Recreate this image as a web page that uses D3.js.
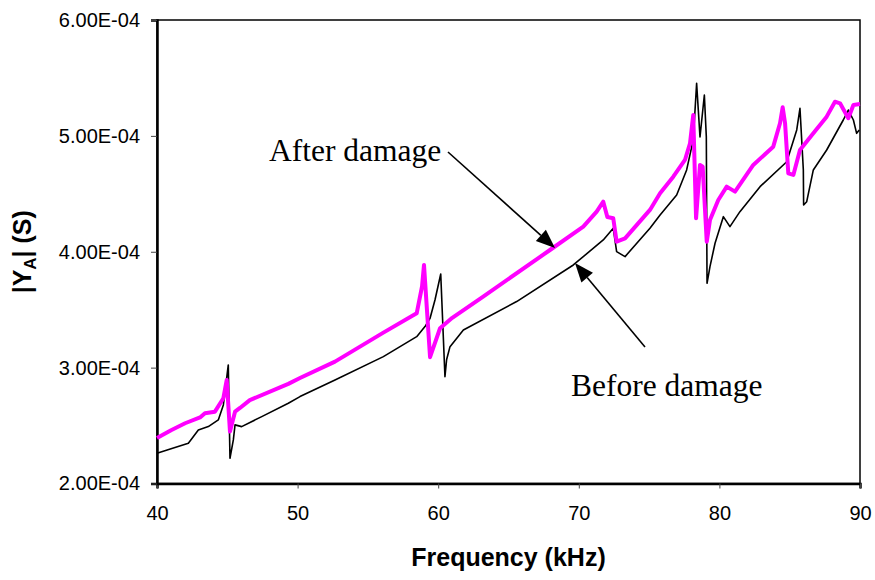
<!DOCTYPE html>
<html>
<head>
<meta charset="utf-8">
<script src="https://cdn.jsdelivr.net/npm/d3@7"></script>
<style>
  body { margin: 0; background: #fff; }
  .tick text { font-family: "Liberation Sans", Arial, sans-serif; font-size: 20px; fill: #000; }
  .note { font-family: "Liberation Serif", "Times New Roman", serif; font-size: 31.5px; fill: #000; }
  .title { font-family: "Liberation Sans", Arial, sans-serif; font-size: 25px; font-weight: bold; fill: #000; }
</style>
</head>
<body>
<svg id="chart" width="875" height="580"></svg>
<script>
// frequency in kHz, admittance in units of 1E-04 S
var freqAfter = [40, 41, 42, 43.06, 43.41, 44.12, 44.72, 44.96, 45.19, 45.55, 45.9, 46.6, 49.34, 50.17, 52.66,
  56.07, 58.47, 58.85, 58.99, 59.42, 60.13, 61.0, 63.2, 67.95, 70.32, 71.27, 71.74, 72.03, 72.45, 72.69, 73.29, 75.06,
  75.78, 76.72, 77.55, 77.91, 78.14, 78.34, 78.62, 78.81, 79.1, 79.33, 79.92, 80.52, 81.11, 82.41, 83.83,
  84.31, 84.5, 84.67, 84.9, 85.26, 85.73, 86.68, 87.63, 88.22, 88.58, 89.17, 89.53, 90];
var yAfter = [2.393, 2.46, 2.52, 2.57, 2.607, 2.62, 2.736, 2.894, 2.448, 2.62, 2.652, 2.72, 2.86, 2.91, 3.052,
  3.30, 3.469, 3.70, 3.886, 3.09, 3.34, 3.43, 3.613, 4.015, 4.217, 4.346, 4.432, 4.30, 4.289, 4.087, 4.116, 4.361,
  4.505, 4.648, 4.792, 4.936, 5.18, 4.289, 4.749, 4.734, 4.087, 4.274, 4.447, 4.562, 4.519, 4.749, 4.907,
  5.109, 5.247, 5.109, 4.677, 4.663, 4.878, 5.022, 5.166, 5.295, 5.281, 5.152, 5.267, 5.275];

var freqBefore = [40, 41, 42.23, 42.94, 43.65, 44.36, 44.72, 45.07, 45.19, 45.43, 45.55, 46.02, 47.45, 49.34,
  50.17, 52.66, 56.1, 58.47, 59.06, 59.42, 59.77, 60.18, 60.48, 60.6, 60.84, 61.79, 65.58, 69.61, 71.74, 72.45,
  72.69, 73.29, 75.06, 75.78, 76.96, 77.67, 78.14, 78.38, 78.62, 78.93, 79.07, 79.12, 79.33, 79.69, 80.28,
  80.75, 81.46, 82.89, 84.79, 85.5, 85.73, 85.97, 85.99, 86.21, 86.68, 87.63, 88.81, 89.17, 89.53, 89.76, 89.95];
var yBefore = [2.261, 2.30, 2.348, 2.462, 2.491, 2.549, 2.678, 3.023, 2.218, 2.376, 2.506, 2.491, 2.577, 2.693,
  2.75, 2.894, 3.095, 3.267, 3.354, 3.426, 3.584, 3.808, 2.922, 3.07, 3.181, 3.325, 3.57, 3.886, 4.102, 4.203,
  4.001, 3.958, 4.203, 4.318, 4.49, 4.706, 4.965, 5.454, 4.99, 5.353, 4.99, 3.728, 3.872, 4.073, 4.303,
  4.217, 4.346, 4.562, 4.777, 5.051, 5.238, 4.706, 4.404, 4.432, 4.706, 4.878, 5.137, 5.223, 5.137, 5.022, 5.051];

var xTicks = [40, 50, 60, 70, 80, 90];
var yTicks = [2, 3, 4, 5, 6];

(function () {
  'use strict';
  var svg = d3.select('#chart');
  var plotLeft = 157, plotRight = 860, plotTop = 20, plotBottom = 483.5;

  var x = d3.scaleLinear().domain([40, 90]).range([plotLeft, plotRight]);
  var y = d3.scaleLinear().domain([2, 6]).range([plotBottom, plotTop]);

  var formatE = function (v) {
    return v.toFixed(2) + 'E-04';
  };

  // plot frame
  svg.append('rect')
    .attr('x', plotLeft).attr('y', plotTop)
    .attr('width', plotRight - plotLeft).attr('height', plotBottom - plotTop)
    .attr('fill', 'none').attr('stroke', '#000').attr('stroke-width', 1.5);

  var xAxis = svg.append('g')
    .attr('transform', 'translate(0,' + plotBottom + ')')
    .call(d3.axisBottom(x).tickValues(xTicks).tickSize(5).tickPadding(17));
  var yAxis = svg.append('g')
    .attr('transform', 'translate(' + plotLeft + ',0)')
    .call(d3.axisLeft(y).tickValues(yTicks).tickFormat(formatE).tickSize(6).tickPadding(11));

  [xAxis, yAxis].forEach(function (g) {
    g.select('.domain').attr('stroke', '#000').attr('stroke-width', 2.5);
    g.selectAll('.tick line').attr('stroke', '#444').attr('stroke-width', 1);
  });

  var line = d3.line()
    .x(function (d) { return x(d[0]); })
    .y(function (d) { return y(d[1]); });

  svg.append('path')
    .datum(d3.zip(freqBefore, yBefore))
    .attr('d', line)
    .attr('fill', 'none').attr('stroke', '#000').attr('stroke-width', 1.6)
    .attr('stroke-linejoin', 'round');

  svg.append('path')
    .datum(d3.zip(freqAfter, yAfter))
    .attr('d', line)
    .attr('fill', 'none').attr('stroke', '#ff00ff').attr('stroke-width', 4)
    .attr('stroke-linejoin', 'round');

  // annotations
  var arrow = function (x1, y1, x2, y2) {
    var ang = Math.atan2(y2 - y1, x2 - x1);
    var len = 19, half = 7.5;
    var bx = x2 - len * Math.cos(ang), by = y2 - len * Math.sin(ang);
    svg.append('line')
      .attr('x1', x1).attr('y1', y1).attr('x2', bx).attr('y2', by)
      .attr('stroke', '#000').attr('stroke-width', 1.6);
    svg.append('polygon')
      .attr('points', [
        [x2, y2],
        [bx + half * Math.sin(ang), by - half * Math.cos(ang)],
        [bx - half * Math.sin(ang), by + half * Math.cos(ang)]
      ].map(function (p) { return p.join(','); }).join(' '))
      .attr('fill', '#000');
  };
  arrow(448, 152, 555, 248);
  arrow(645, 347, 575, 263);

  svg.append('text').attr('class', 'note').attr('x', 269).attr('y', 161).text('After damage');
  svg.append('text').attr('class', 'note').attr('x', 571).attr('y', 396).text('Before damage');

  // axis titles
  svg.append('text').attr('class', 'title')
    .attr('x', (plotLeft + plotRight) / 2).attr('y', 566)
    .attr('text-anchor', 'middle')
    .text('Frequency (kHz)');

  var yt = svg.append('text').attr('class', 'title')
    .attr('transform', 'translate(31,' + (plotTop + plotBottom) / 2 + ') rotate(-90)')
    .attr('text-anchor', 'middle');
  yt.append('tspan').text('|Y');
  yt.append('tspan').attr('font-size', '17px').attr('dy', 5).text('A');
  yt.append('tspan').attr('dy', -5).text('| (S)');
})();
</script>
</body>
</html>
